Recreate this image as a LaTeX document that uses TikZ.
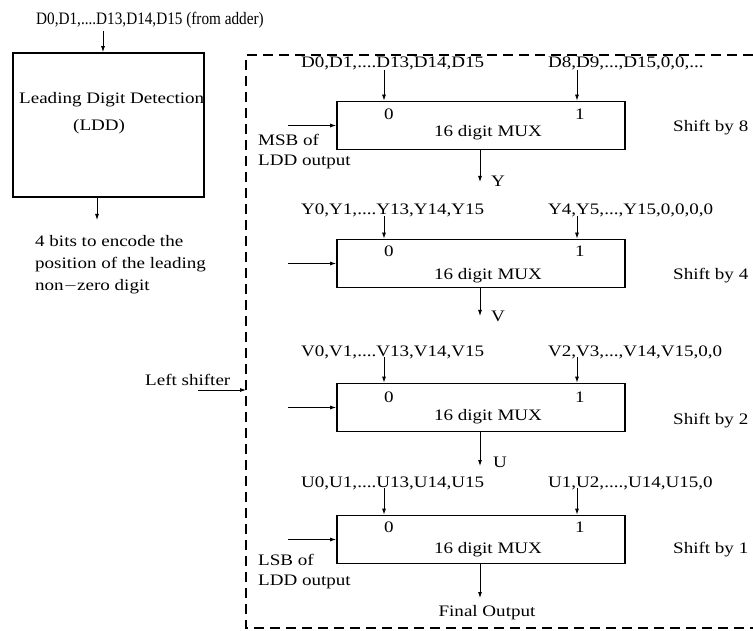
\documentclass[tikz,border=0pt]{standalone}
\usepackage{fontspec}
\setmainfont{Liberation Serif}[FakeStretch=1.19]
\newfontfamily\titlefont{Liberation Serif}[FakeStretch=0.87]
\usetikzlibrary{arrows.meta,positioning}

\begin{document}
\begin{tikzpicture}[x=1pt,y=-1pt,
    box/.style={draw,line width=1.8pt,inner sep=0pt},
    mux/.style={box,minimum width=288pt,minimum height=48pt},
    txt/.style={inner sep=0pt,font=\fontsize{16}{20}\selectfont},
    wire/.style={->,line width=0.8pt},
    >={Latex[length=6pt,width=4pt]}]
  \useasboundingbox (0,0) rectangle (753,631);

  % leading digit detection
  \node[inner sep=0pt,font=\titlefont\fontsize{17.5}{20}\selectfont,anchor=base west] (title) at (36,25) {D0,D1,....D13,D14,D15 (from adder)};
  \node[box,minimum width=191pt,minimum height=144pt] (ldd) at (108.5,125) {};
  \node[txt,anchor=base west] (lddname) at (19,104) {Leading Digit Detection};
  \node[txt,anchor=base west] (lddabbr) at (73,131) {(LDD)};
  \node[txt,anchor=base west,align=left,font=\fontsize{16}{22}\selectfont] (lddout) at (35,291)
    {4 bits to encode the\\position of the leading\\non$-$zero digit};
  \coordinate (ldin) at (103,31);
  \coordinate (ldout) at (97,220);
  \draw[wire] (ldin) -- (ldin |- ldd.north);
  \draw[wire] (ldd.south -| ldout) -- (ldout);

  % left shifter frame
  \draw[line width=1.8pt,dash pattern=on 10pt off 6pt] (753,55) -- (246,55) -- (246,628) -- (753,628);
  \node[txt,anchor=base west] (shiftlbl) at (145,385) {Left shifter};
  \coordinate (shiftin) at (198,390);
  \coordinate (frame) at (246,390);
  \draw[wire] (shiftin) -- (frame);

  % shift by 8
  \node[mux] (mux8) at (481,125.5) {};
  \node[txt,anchor=base west] (in8a) at (301,68) {D0,D1,....D13,D14,D15};
  \node[txt,anchor=base west] (in8b) at (548,68) {D8,D9,...,D15,0,0,...};
  \node[txt,anchor=base] at (389,119.5) {0};
  \node[txt,anchor=base] at (580,119.5) {1};
  \node[txt,anchor=base] at (488,137) {16 digit MUX};
  \node[txt,anchor=base west] at (673,132) {Shift by 8};
  \node[txt,anchor=base west,align=left] (msb) at (258,166) {MSB of\\LDD output};
  \coordinate (c8) at (288,0);
  \coordinate (o8) at (480,182);
  \node[txt,anchor=base west] (y) at (491,187) {Y};
  \draw[wire] (384,70) -- (384,0 |- mux8.north);
  \draw[wire] (577,70) -- (577,0 |- mux8.north);
  \draw[wire] (c8 |- mux8.west) -- (mux8.west);
  \draw[wire] (mux8.south -| o8) -- (o8);

  % shift by 4
  \node[mux] (mux4) at (481,263.5) {};
  \node[txt,anchor=base west] (in4a) at (301,215) {Y0,Y1,....Y13,Y14,Y15};
  \node[txt,anchor=base west] (in4b) at (548,215) {Y4,Y5,...,Y15,0,0,0,0};
  \node[txt,anchor=base] at (389,257) {0};
  \node[txt,anchor=base] at (580,257) {1};
  \node[txt,anchor=base] at (488,280) {16 digit MUX};
  \node[txt,anchor=base west] at (673,280) {Shift by 4};
  \coordinate (o4) at (480,316);
  \node[txt,anchor=base west] (v) at (491,322) {V};
  \draw[wire] (384,216) -- (384,0 |- mux4.north);
  \draw[wire] (577,216) -- (577,0 |- mux4.north);
  \draw[wire] (c8 |- mux4.west) -- (mux4.west);
  \draw[wire] (mux4.south -| o4) -- (o4);

  % shift by 2
  \node[mux] (mux2) at (481,407.5) {};
  \node[txt,anchor=base west] (in2a) at (301,356) {V0,V1,....V13,V14,V15};
  \node[txt,anchor=base west] (in2b) at (548,356) {V2,V3,...,V14,V15,0,0};
  \node[txt,anchor=base] at (389,402) {0};
  \node[txt,anchor=base] at (580,402) {1};
  \node[txt,anchor=base] at (488,420) {16 digit MUX};
  \node[txt,anchor=base west] at (673,424) {Shift by 2};
  \coordinate (o2) at (480,466);
  \node[txt,anchor=base west] (u) at (493,467) {U};
  \draw[wire] (384,357) -- (384,0 |- mux2.north);
  \draw[wire] (577,357) -- (577,0 |- mux2.north);
  \draw[wire] (c8 |- mux2.west) -- (mux2.west);
  \draw[wire] (mux2.south -| o2) -- (o2);

  % shift by 1
  \node[mux] (mux1) at (481,539.5) {};
  \node[txt,anchor=base west] (in1a) at (301,487) {U0,U1,....U13,U14,U15};
  \node[txt,anchor=base west] (in1b) at (548,487) {U1,U2,....,U14,U15,0};
  \node[txt,anchor=base] at (389,532) {0};
  \node[txt,anchor=base] at (580,532) {1};
  \node[txt,anchor=base] at (488,553) {16 digit MUX};
  \node[txt,anchor=base west] at (673,553) {Shift by 1};
  \node[txt,anchor=base west,align=left] (lsb) at (258,585) {LSB of\\LDD output};
  \coordinate (o1) at (480,598);
  \node[txt,anchor=base] (final) at (487,616) {Final Output};
  \draw[wire] (384,488) -- (384,0 |- mux1.north);
  \draw[wire] (577,488) -- (577,0 |- mux1.north);
  \draw[wire] (c8 |- mux1.west) -- (mux1.west);
  \draw[wire] (mux1.south -| o1) -- (o1);
\end{tikzpicture}
\end{document}
